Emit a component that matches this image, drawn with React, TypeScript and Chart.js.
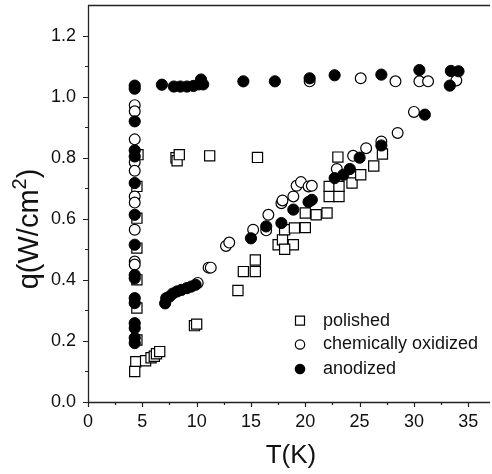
import React, { useEffect, useRef } from "react";
import { Chart, registerables } from "chart.js";
Chart.register(...registerables);

// ---- data: [T (K), q (W/cm^2)] ----
const polished: [number, number][] = [
  [4.6, 0.81], [4.5, 0.706], [4.5, 0.602], [4.5, 0.504], [4.5, 0.4], [4.5, 0.308], [4.5, 0.203],
  [4.4, 0.132], [4.3, 0.1], [5.3, 0.135], [5.8, 0.145], [6.1, 0.15], [6.3, 0.158], [6.6, 0.165],
  [8.1, 0.8], [8.2, 0.79], [8.4, 0.81], [11.2, 0.806], [15.6, 0.801],
  [9.8, 0.25], [10.0, 0.255],
  [13.8, 0.365], [14.3, 0.427], [15.4, 0.427], [15.4, 0.465],
  [17.5, 0.515], [18.1, 0.515], [18.9, 0.515], [17.9, 0.531], [18.1, 0.5], [18.1, 0.564],
  [19.0, 0.57], [20.0, 0.571], [20.0, 0.619], [21.0, 0.613], [22.0, 0.619],
  [22.2, 0.706], [23.1, 0.706], [22.2, 0.673], [23.1, 0.673], [23.0, 0.802],
  [24.3, 0.717], [25.1, 0.744], [26.3, 0.773], [27.1, 0.812],
];
const chemOxidized: [number, number][] = [
  [4.3, 0.972], [4.3, 0.952], [4.3, 0.86], [4.3, 0.785], [4.3, 0.757], [4.3, 0.673], [4.3, 0.653],
  [4.3, 0.564], [4.3, 0.46], [4.3, 0.45],
  [10.1, 0.39], [11.1, 0.44], [11.3, 0.44], [12.7, 0.511], [13.0, 0.522], [15.2, 0.564],
  [16.4, 0.562], [16.6, 0.613], [17.8, 0.651], [17.9, 0.66], [18.9, 0.673], [19.2, 0.708],
  [19.6, 0.72], [20.3, 0.706], [20.6, 0.708], [22.9, 0.763], [24.4, 0.806], [25.6, 0.831],
  [27.0, 0.853], [28.5, 0.881], [30.0, 0.95],
  [20.4, 1.05], [25.1, 1.06], [28.3, 1.05], [30.5, 1.05], [31.3, 1.05], [33.9, 1.053],
];
const anodized: [number, number][] = [
  [4.3, 1.036], [4.3, 1.026], [4.3, 0.919], [4.3, 0.824], [4.3, 0.804], [4.3, 0.717], [4.3, 0.613],
  [4.3, 0.515], [4.3, 0.416], [4.3, 0.405], [4.3, 0.34], [4.3, 0.324], [4.3, 0.258], [4.3, 0.242],
  [4.3, 0.21], [4.3, 0.193],
  [6.8, 1.039], [7.9, 1.033], [8.5, 1.033], [9.1, 1.033], [9.7, 1.035], [10.2, 1.04], [10.4, 1.056],
  [10.6, 1.04], [14.3, 1.05], [17.2, 1.05], [20.4, 1.06], [22.7, 1.07], [27.0, 1.072], [30.5, 1.087],
  [33.4, 1.084], [34.1, 1.083], [33.3, 1.036],
  [7.1, 0.323], [7.2, 0.34], [7.5, 0.345], [7.8, 0.355], [8.2, 0.362], [8.6, 0.367], [9.1, 0.373],
  [9.5, 0.378], [9.9, 0.384],
  [15.0, 0.536], [16.4, 0.575], [17.8, 0.586], [18.9, 0.63], [20.3, 0.655], [20.6, 0.662],
  [22.7, 0.733], [23.5, 0.744], [24.1, 0.763], [25.0, 0.8], [27.0, 0.84], [31.0, 0.941],
];

const seriesNames = ["polished", "chemically oxidized", "anodized"];
const xTicks = [0, 5, 10, 15, 20, 25, 30, 35];
const xMinorTicks = [2.5, 7.5, 12.5, 17.5, 22.5, 27.5, 32.5];
const yTicks = [0, 0.2, 0.4, 0.6, 0.8, 1.0, 1.2];
const yMinorTicks = [0.1, 0.3, 0.5, 0.7, 0.9, 1.1];
const xTitle = "T(K)";
const yTitleMain = "q(W/cm";
const yTitleSup = "2";
const yTitleEnd = ")";

const FONT = "'Liberation Sans', Arial, sans-serif";
const INK = "#111";

const toPts = (arr: [number, number][]) => arr.map(([x, y]) => ({ x, y }));

const zeroPad = (s: any) => {
  s.paddingTop = 0;
  s.paddingBottom = 0;
  s.paddingLeft = 0;
  s.paddingRight = 0;
};

const decor = {
  id: "decor",
  afterDraw(chart: any) {
    const { ctx, chartArea: a, scales } = chart;
    const xs = scales.x;
    const ys = scales.y;
    ctx.save();
    ctx.strokeStyle = "#222";
    ctx.lineWidth = 1.3;
    ctx.beginPath();
    ctx.moveTo(a.left, a.top + 0.5);
    ctx.lineTo(a.right, a.top + 0.5);
    ctx.moveTo(a.left + 0.5, a.top);
    ctx.lineTo(a.left + 0.5, a.bottom + 0.5);
    ctx.lineTo(a.right, a.bottom + 0.5);
    ctx.stroke();
    ctx.lineWidth = 1.2;
    ctx.beginPath();
    for (const v of xTicks) {
      const p = Math.round(xs.getPixelForValue(v)) + 0.5;
      ctx.moveTo(p, a.bottom);
      ctx.lineTo(p, a.bottom + 5);
    }
    for (const v of xMinorTicks) {
      const p = Math.round(xs.getPixelForValue(v)) + 0.5;
      ctx.moveTo(p, a.bottom);
      ctx.lineTo(p, a.bottom + 3);
    }
    for (const v of yTicks) {
      const p = Math.round(ys.getPixelForValue(v)) + 0.5;
      ctx.moveTo(a.left, p);
      ctx.lineTo(a.left - 5, p);
    }
    for (const v of yMinorTicks) {
      const p = Math.round(ys.getPixelForValue(v)) + 0.5;
      ctx.moveTo(a.left, p);
      ctx.lineTo(a.left - 3, p);
    }
    ctx.stroke();

    // axis titles
    ctx.fillStyle = INK;
    ctx.font = `26px ${FONT}`;
    ctx.textAlign = "center";
    ctx.textBaseline = "alphabetic";
    ctx.fillText(xTitle, (a.left + a.right) / 2 + 2, 463);

    ctx.save();
    ctx.translate(38, 229);
    ctx.rotate(-Math.PI / 2);
    const big = `29px ${FONT}`;
    const small = `20px ${FONT}`;
    ctx.font = big;
    const w1 = ctx.measureText(yTitleMain).width;
    ctx.font = small;
    const w2 = ctx.measureText(yTitleSup).width;
    ctx.font = big;
    const w3 = ctx.measureText(yTitleEnd).width;
    const total = w1 + w2 + w3;
    let cx = -total / 2;
    ctx.textAlign = "left";
    ctx.fillText(yTitleMain, cx, 0);
    cx += w1;
    ctx.font = small;
    ctx.fillText(yTitleSup, cx, -12);
    cx += w2;
    ctx.font = big;
    ctx.fillText(yTitleEnd, cx, 0);
    ctx.restore();

    // legend
    const lx = 300;
    const ly = [320.7, 344.5, 369];
    ctx.font = `18px ${FONT}`;
    ctx.textAlign = "left";
    ctx.textBaseline = "middle";
    ctx.lineWidth = 1.2;
    ctx.strokeStyle = "#000";
    seriesNames.forEach((name, i) => {
      const cy = ly[i];
      ctx.beginPath();
      if (i === 0) {
        ctx.rect(lx - 4.5, cy - 4.5, 9, 9);
        ctx.fillStyle = "#fff";
        ctx.fill();
        ctx.stroke();
      } else {
        ctx.arc(lx, cy, 4.7, 0, Math.PI * 2);
        ctx.fillStyle = i === 1 ? "#fff" : "#000";
        ctx.fill();
        ctx.stroke();
      }
      ctx.fillStyle = INK;
      ctx.fillText(name, 323, cy);
    });
    ctx.restore();
  },
};

export default function App() {
  const ref = useRef<HTMLCanvasElement | null>(null);
  useEffect(() => {
    if (!ref.current) return;
    const chart = new Chart(ref.current, {
      type: "scatter",
      data: {
        datasets: [
          {
            label: seriesNames[2],
            data: toPts(anodized),
            pointStyle: "circle",
            pointRadius: 5.6,
            backgroundColor: "#000",
            borderColor: "#000",
            borderWidth: 1,
          },
          {
            label: seriesNames[1],
            data: toPts(chemOxidized),
            pointStyle: "circle",
            pointRadius: 5.4,
            backgroundColor: "#fff",
            borderColor: "#000",
            borderWidth: 1.2,
          },
          {
            label: seriesNames[0],
            data: toPts(polished),
            pointStyle: "rect",
            pointRadius: 7.2,
            backgroundColor: "#fff",
            borderColor: "#000",
            borderWidth: 1.2,
          },
        ],
      },
      options: {
        responsive: false,
        animation: false,
        devicePixelRatio: 1,
        layout: { autoPadding: false, padding: { top: 5, right: 2, left: 0, bottom: 0 } },
        plugins: { legend: { display: false }, tooltip: { enabled: false } },
        scales: {
          x: {
            type: "linear",
            min: 0,
            max: 37,
            afterBuildTicks: (s: any) => {
              s.ticks = xTicks.map((v) => ({ value: v }));
            },
            afterFit: (s: any) => {
              s.height = 72;
              zeroPad(s);
            },
            grid: { display: false, drawTicks: false },
            border: { display: false },
            ticks: {
              autoSkip: false,
              maxRotation: 0,
              padding: 9,
              color: INK,
              font: { family: FONT, size: 18 },
              callback: (v: any) => String(v),
            },
          },
          y: {
            type: "linear",
            min: 0,
            max: 1.3,
            afterBuildTicks: (s: any) => {
              s.ticks = yTicks.map((v) => ({ value: v }));
            },
            afterFit: (s: any) => {
              s.width = 88;
              zeroPad(s);
            },
            grid: { display: false, drawTicks: false },
            border: { display: false },
            ticks: {
              autoSkip: false,
              padding: 12,
              color: INK,
              font: { family: FONT, size: 18 },
              callback: (v: any) => Number(v).toFixed(1),
            },
          },
        },
      },
      plugins: [decor],
    });
    return () => chart.destroy();
  }, []);
  return (
    <div style={{ position: "fixed", left: 0, top: 0, width: 492, height: 474, background: "#fff" }}>
      <canvas ref={ref} width={492} height={474} style={{ width: 492, height: 474, display: "block" }} />
    </div>
  );
}
